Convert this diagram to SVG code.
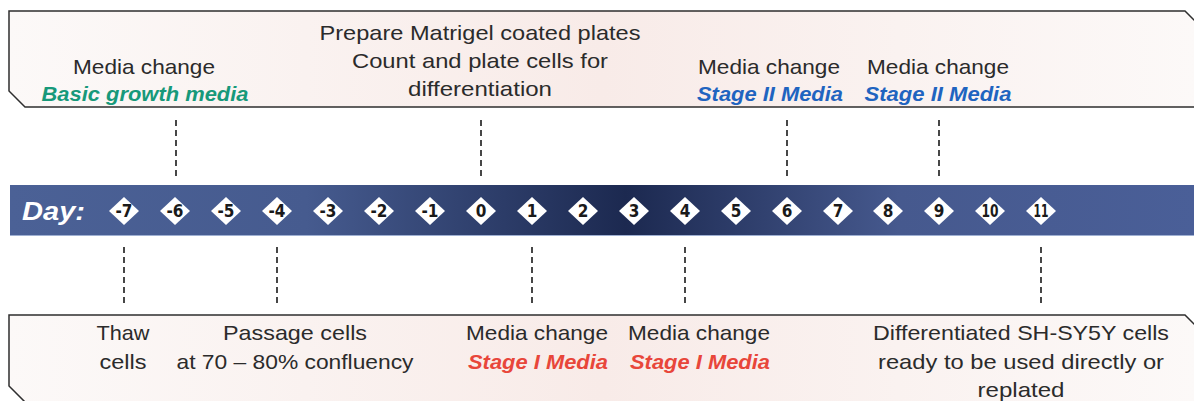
<svg xmlns="http://www.w3.org/2000/svg" width="1194" height="401" viewBox="0 0 1194 401">
<defs>
<linearGradient id="boxg" x1="0" y1="0" x2="1" y2="0">
<stop offset="0" stop-color="#fcf9f8"/>
<stop offset="0.5" stop-color="#f8ebe8"/>
<stop offset="1" stop-color="#fcf9f8"/>
</linearGradient>
<linearGradient id="barg" x1="0" y1="0" x2="1" y2="0">
<stop offset="0" stop-color="#4b6196"/>
<stop offset="0.25" stop-color="#465b8f"/>
<stop offset="0.52" stop-color="#1c2950"/>
<stop offset="0.75" stop-color="#46598e"/>
<stop offset="1" stop-color="#4a5f98"/>
</linearGradient>
<symbol id="dia" overflow="visible">
<polygon points="0,-14 15,0 0,14 -15,0" fill="#ffffff"/>
</symbol>
</defs>
<style>
.box{fill:url(#boxg);stroke:#2e2e2e;stroke-width:1.5}
.t{font-family:"Liberation Sans",Arial,sans-serif;font-size:21px;fill:#2b2b2b;text-anchor:middle}
.g{font-style:italic;font-weight:bold;fill:#17997a}
.b{font-style:italic;font-weight:bold;fill:#1f64c0}
.r{font-style:italic;font-weight:bold;fill:#e8463a}
.n{font-family:"DejaVu Sans Condensed","Liberation Sans",sans-serif;font-size:17px;font-weight:bold;fill:#1a1a1a;text-anchor:middle}
.dash{stroke:#1a1a1a;stroke-width:1.6;stroke-dasharray:6,4;fill:none}
</style>
<g id="top-box">
<path class="box" d="M1195,107 L25,107 L9,91 L9,11 L1185,11 L1195,21"/>
</g>
<g id="bottom-box">
<path class="box" d="M1195,402 L25,402 L9,386 L9,315 L1185,315 L1195,325"/>
</g>
<g id="timeline">
<rect x="10" y="185" width="1185" height="51" fill="url(#barg)"/>
<line x1="10" y1="235.5" x2="1194" y2="235.5" stroke="#9fb0d2" stroke-width="1.2"/>
<text x="22" y="220" font-family="'Liberation Sans',sans-serif" font-size="26" font-style="italic" font-weight="bold" fill="#ffffff" textLength="63" lengthAdjust="spacingAndGlyphs">Day:</text>
</g>
<g id="days">
<use href="#dia" x="124" y="211"/><text class="n" x="124" y="217">-7</text>
<use href="#dia" x="175" y="211"/><text class="n" x="175" y="217">-6</text>
<use href="#dia" x="226" y="211"/><text class="n" x="226" y="217">-5</text>
<use href="#dia" x="277" y="211"/><text class="n" x="277" y="217">-4</text>
<use href="#dia" x="328" y="211"/><text class="n" x="328" y="217">-3</text>
<use href="#dia" x="379" y="211"/><text class="n" x="379" y="217">-2</text>
<use href="#dia" x="430" y="211"/><text class="n" x="430" y="217">-1</text>
<use href="#dia" x="481" y="211"/><text class="n" x="481" y="217">0</text>
<use href="#dia" x="532" y="211"/><text class="n" x="532" y="217">1</text>
<use href="#dia" x="583" y="211"/><text class="n" x="583" y="217">2</text>
<use href="#dia" x="634" y="211"/><text class="n" x="634" y="217">3</text>
<use href="#dia" x="685" y="211"/><text class="n" x="685" y="217">4</text>
<use href="#dia" x="736" y="211"/><text class="n" x="736" y="217">5</text>
<use href="#dia" x="787" y="211"/><text class="n" x="787" y="217">6</text>
<use href="#dia" x="838" y="211"/><text class="n" x="838" y="217">7</text>
<use href="#dia" x="888" y="211"/><text class="n" x="888" y="217">8</text>
<use href="#dia" x="939" y="211"/><text class="n" x="939" y="217">9</text>
<use href="#dia" x="990" y="211"/><text class="n" x="990" y="217" textLength="17" lengthAdjust="spacingAndGlyphs">10</text>
<use href="#dia" x="1041" y="211"/><text class="n" x="1041" y="217" textLength="15" lengthAdjust="spacingAndGlyphs">11</text>
</g>
<g id="connectors">
<line class="dash" x1="176" y1="120" x2="176" y2="178"/>
<line class="dash" x1="481" y1="120" x2="481" y2="178"/>
<line class="dash" x1="787" y1="120" x2="787" y2="178"/>
<line class="dash" x1="939" y1="120" x2="939" y2="178"/>
<line class="dash" x1="124" y1="247" x2="124" y2="305"/>
<line class="dash" x1="277" y1="247" x2="277" y2="305"/>
<line class="dash" x1="532" y1="247" x2="532" y2="305"/>
<line class="dash" x1="685" y1="247" x2="685" y2="305"/>
<line class="dash" x1="1041" y1="247" x2="1041" y2="305"/>
</g>
<g id="n-top-1">
<text class="t" x="144" y="74" textLength="142" lengthAdjust="spacingAndGlyphs">Media change</text>
<text class="t g" x="145" y="101" textLength="207" lengthAdjust="spacingAndGlyphs">Basic growth media</text>
</g>
<g id="n-top-2">
<text class="t" x="480" y="40" textLength="321" lengthAdjust="spacingAndGlyphs">Prepare Matrigel coated plates</text>
<text class="t" x="480" y="68" textLength="256" lengthAdjust="spacingAndGlyphs">Count and plate cells for</text>
<text class="t" x="480" y="96" textLength="144" lengthAdjust="spacingAndGlyphs">differentiation</text>
</g>
<g id="n-top-3">
<text class="t" x="769" y="74" textLength="142" lengthAdjust="spacingAndGlyphs">Media change</text>
<text class="t b" x="770" y="101" textLength="146" lengthAdjust="spacingAndGlyphs">Stage II Media</text>
</g>
<g id="n-top-4">
<text class="t" x="938" y="74" textLength="142" lengthAdjust="spacingAndGlyphs">Media change</text>
<text class="t b" x="938" y="101" textLength="147" lengthAdjust="spacingAndGlyphs">Stage II Media</text>
</g>
<g id="n-bot-1">
<text class="t" x="123" y="340" textLength="53" lengthAdjust="spacingAndGlyphs">Thaw</text>
<text class="t" x="123" y="369" textLength="47" lengthAdjust="spacingAndGlyphs">cells</text>
</g>
<g id="n-bot-2">
<text class="t" x="295" y="340" textLength="144" lengthAdjust="spacingAndGlyphs">Passage cells</text>
<text class="t" x="295" y="369" textLength="237" lengthAdjust="spacingAndGlyphs">at 70 – 80% confluency</text>
</g>
<g id="n-bot-3">
<text class="t" x="537" y="340" textLength="142" lengthAdjust="spacingAndGlyphs">Media change</text>
<text class="t r" x="538" y="369" textLength="140" lengthAdjust="spacingAndGlyphs">Stage I Media</text>
</g>
<g id="n-bot-4">
<text class="t" x="699" y="340" textLength="142" lengthAdjust="spacingAndGlyphs">Media change</text>
<text class="t r" x="700" y="369" textLength="140" lengthAdjust="spacingAndGlyphs">Stage I Media</text>
</g>
<g id="n-bot-5">
<text class="t" x="1021" y="340" textLength="296" lengthAdjust="spacingAndGlyphs">Differentiated SH-SY5Y cells</text>
<text class="t" x="1021" y="369" textLength="286" lengthAdjust="spacingAndGlyphs">ready to be used directly or</text>
<text class="t" x="1021" y="397" textLength="87" lengthAdjust="spacingAndGlyphs">replated</text>
</g>
</svg>
